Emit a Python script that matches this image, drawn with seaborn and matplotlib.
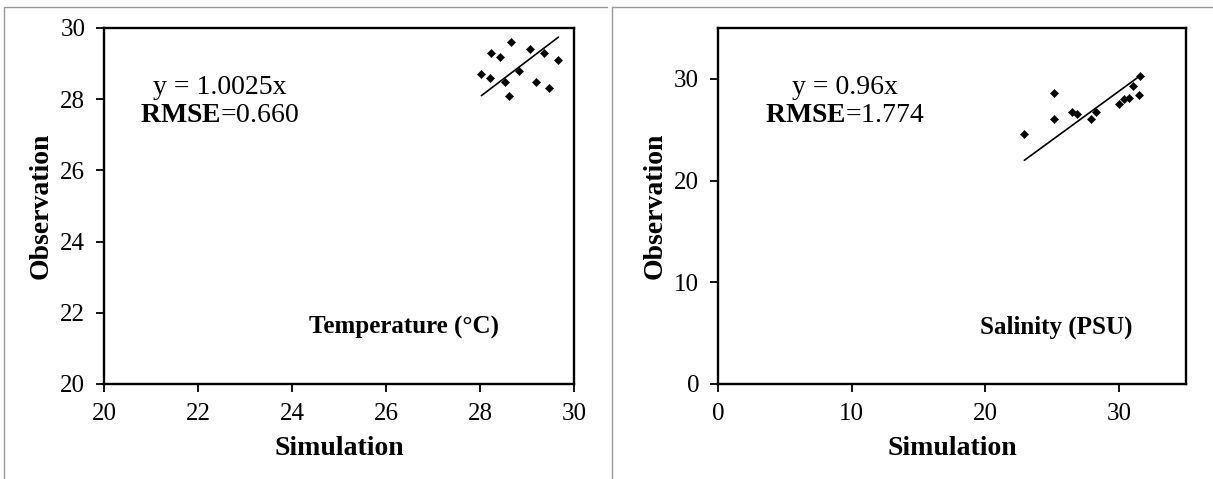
import numpy as np
import pandas as pd
import matplotlib
matplotlib.use("Agg")
import matplotlib.pyplot as plt
import seaborn as sns
from matplotlib.lines import Line2D

# temperature panel (simulation vs observation, deg C)
temp_sim = [28.03, 28.22, 28.24, 28.43, 28.54, 28.61, 28.65, 28.83, 29.07, 29.19, 29.37, 29.46, 29.67]
temp_obs = [28.71, 28.59, 29.29, 29.19, 28.49, 28.10, 29.60, 28.80, 29.40, 28.49, 29.29, 28.31, 29.10]
temp_slope = 1.0025
temp_rmse = "0.660"

# salinity panel (PSU)
sal_sim = [22.91, 25.11, 25.11, 26.49, 26.87, 27.89, 28.24, 30.00, 30.38, 30.74, 31.06, 31.50, 31.59]
sal_obs = [24.57, 28.63, 26.07, 26.73, 26.50, 26.07, 26.73, 27.48, 28.04, 28.14, 29.28, 28.40, 30.33]
sal_slope = 0.96
sal_rmse = "1.774"

temp_ticks = [20, 22, 24, 26, 28, 30]
sal_ticks = [0, 10, 20, 30]

sns.set_style("ticks")
plt.rcParams["font.family"] = ["Liberation Serif", "DejaVu Serif"]
plt.rcParams["mathtext.fontset"] = "custom"
plt.rcParams["mathtext.rm"] = "Liberation Serif"
plt.rcParams["mathtext.bf"] = "Liberation Serif:bold"
plt.rcParams["text.color"] = "black"
plt.rcParams["axes.labelcolor"] = "black"

W, H = 1213, 479
fig = plt.figure(figsize=(W / 100, H / 100), dpi=100)
fig.patch.set_facecolor("white")


def px_axes(x0, x1, y0, y1):
    # pixel box -> figure fraction
    return fig.add_axes([x0 / W, 1 - y1 / H, (x1 - x0) / W, (y1 - y0) / H])


def draw_panel(ax, sim, obs, slope, rmse, lims, ticks, name, eq_xy, name_xy):
    df = pd.DataFrame({"sim": sim, "obs": obs})
    sns.scatterplot(data=df, x="sim", y="obs", ax=ax, marker="D", s=18,
                    color="black", edgecolor="black", linewidth=0.3)
    xs = np.array([min(sim), max(sim)])
    fit = pd.DataFrame({"x": xs, "y": slope * xs})
    sns.lineplot(data=fit, x="x", y="y", ax=ax, color="black", linewidth=1.2)

    ax.set_xlim(*lims)
    ax.set_ylim(*lims)
    ax.set_xticks(ticks)
    ax.set_yticks(ticks)
    ax.tick_params(direction="out", length=5.5, width=1.3, labelsize=18, pad=8,
                   colors="black", labelcolor="black")
    for sp in ax.spines.values():
        sp.set_visible(True)
        sp.set_linewidth(1.7)
        sp.set_color("black")

    ax.set_xlabel("Simulation", fontsize=20, fontweight="bold", labelpad=8)
    ax.set_ylabel("Observation", fontsize=20, fontweight="bold", labelpad=5)

    ax.text(eq_xy[0], eq_xy[1], f"y = {slope}x", fontsize=20, ha="center", va="center",
            transform=ax.transAxes)
    ax.text(eq_xy[0], eq_xy[1] - 0.08, r"$\mathbf{RMSE}$=" + rmse, fontsize=20,
            ha="center", va="center", transform=ax.transAxes)
    ax.text(name_xy[0], name_xy[1], name, fontsize=18, fontweight="bold",
            ha="center", va="center", transform=ax.transAxes)


ax1 = px_axes(104, 574, 28, 384)
draw_panel(ax1, temp_sim, temp_obs, temp_slope, temp_rmse, (20, 30), temp_ticks,
           "Temperature (°C)", ((220 - 104) / 470, (384 - 87) / 356),
           ((404 - 104) / 470, (384 - 327) / 356))

ax2 = px_axes(718, 1186, 28, 384)
draw_panel(ax2, sal_sim, sal_obs, sal_slope, sal_rmse, (0, 35), sal_ticks,
           "Salinity (PSU)", ((845 - 718) / 468, (384 - 87) / 356),
           ((1056 - 718) / 468, (384 - 327) / 356))

# thin grey frames around each panel
frame = dict(color="#9a9a9a", linewidth=1.0, transform=fig.transFigure)
fig.add_artist(Line2D([4 / W, 4 / W], [0, 1 - 7 / H], **frame))
fig.add_artist(Line2D([4 / W, 607 / W], [1 - 7 / H, 1 - 7 / H], **frame))
fig.add_artist(Line2D([612 / W, 612 / W], [0, 1 - 7 / H], **frame))
fig.add_artist(Line2D([612 / W, 1], [1 - 7 / H, 1 - 7 / H], **frame))

fig.savefig("out.png", dpi=100, facecolor="white")
